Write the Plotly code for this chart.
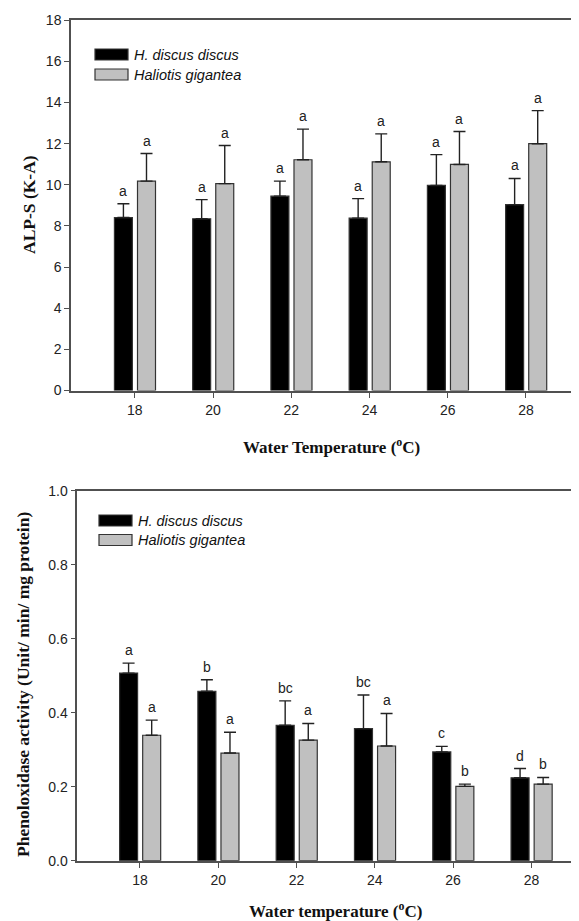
import plotly.graph_objects as go

# ---------------- data ----------------
temps = [18, 20, 22, 24, 26, 28]
series_names = ["H. discus discus", "Haliotis gigantea"]

alp_discus = [8.41, 8.35, 9.45, 8.38, 9.97, 9.04]
alp_discus_se = [0.67, 0.93, 0.73, 0.95, 1.50, 1.27]
alp_gigantea = [10.18, 10.06, 11.22, 11.12, 10.99, 12.00]
alp_gigantea_se = [1.34, 1.85, 1.49, 1.36, 1.60, 1.61]
alp_discus_letters = ["a", "a", "a", "a", "a", "a"]
alp_gigantea_letters = ["a", "a", "a", "a", "a", "a"]

po_discus = [0.507, 0.458, 0.366, 0.357, 0.294, 0.224]
po_discus_se = [0.027, 0.031, 0.066, 0.091, 0.015, 0.025]
po_gigantea = [0.339, 0.291, 0.326, 0.310, 0.201, 0.207]
po_gigantea_se = [0.041, 0.056, 0.045, 0.088, 0.006, 0.018]
po_discus_letters = ["a", "b", "bc", "bc", "c", "d"]
po_gigantea_letters = ["a", "a", "a", "a", "b", "b"]

alp_yticks = [0, 2, 4, 6, 8, 10, 12, 14, 16, 18]
po_yticks = [0.0, 0.2, 0.4, 0.6, 0.8, 1.0]
po_yticklabels = ["0.0", "0.2", "0.4", "0.6", "0.8", "1.0"]

# ---------------- layout helpers ----------------
W, H = 579, 921
def px(x):
    return x / W
def py(y):
    return 1 - y / H

BAR_W = 0.46
OFF_BLACK = -0.52
OFF_GRAY = 0.07
BLACK = "#000000"
GRAY = "#c0c0c0"
EDGE = "#333333"
AX = "#505050"
TICKFONT = dict(family="Liberation Sans, Arial", size=14, color="#222222")
SERIF = "Liberation Serif, Times New Roman"

fig = go.Figure()

def add_panel(xa, ya, m1, e1, m2, e2, l1, l2):
    for means, errs, off, color, name in [
        (m1, e1, OFF_BLACK, BLACK, series_names[0]),
        (m2, e2, OFF_GRAY, GRAY, series_names[1]),
    ]:
        fig.add_trace(go.Bar(
            x=temps, y=means, width=BAR_W, offset=off,
            marker=dict(color=color, line=dict(color=EDGE, width=1.2)),
            error_y=dict(type="data", array=errs, arrayminus=[0] * len(errs),
                         symmetric=False, color="#222222", thickness=1.4, width=6),
            name=name, showlegend=False, xaxis=xa, yaxis=ya,
        ))
    for means, errs, off, letters in [(m1, e1, OFF_BLACK, l1), (m2, e2, OFF_GRAY, l2)]:
        for t, m, e, lab in zip(temps, means, errs, letters):
            fig.add_annotation(
                x=t + off + BAR_W / 2, y=m + e, text=lab, showarrow=False,
                xref=xa, yref=ya, xanchor="center", yanchor="bottom", yshift=3,
                font=dict(family="Liberation Sans, Arial", size=14, color="#222222"),
            )

add_panel("x", "y", alp_discus, alp_discus_se, alp_gigantea, alp_gigantea_se,
          alp_discus_letters, alp_gigantea_letters)
add_panel("x2", "y2", po_discus, po_discus_se, po_gigantea, po_gigantea_se,
          po_discus_letters, po_gigantea_letters)

common_x = dict(tickvals=temps, ticks="outside", ticklen=6, tickwidth=1.3, tickcolor=AX,
                showline=True, linecolor=AX, linewidth=1.5, mirror=True,
                showgrid=False, zeroline=False, tickfont=TICKFONT)
common_y = dict(ticks="outside", ticklen=5, tickwidth=1.3, tickcolor=AX,
                showline=True, linecolor=AX, linewidth=1.5,
                showgrid=False, zeroline=False, tickfont=TICKFONT)

fig.update_layout(
    width=W, height=H,
    margin=dict(l=0, r=0, t=0, b=0, autoexpand=False),
    paper_bgcolor="white", plot_bgcolor="white",
    xaxis=dict(domain=[px(63), 1], range=[16.37, 29.56], anchor="y", **common_x),
    yaxis=dict(domain=[py(382.5), py(12.3)], range=[0, 18], tickvals=alp_yticks,
               anchor="x", **common_y),
    xaxis2=dict(domain=[px(69.3), 1], range=[16.40, 29.42], anchor="y2", **common_x),
    yaxis2=dict(domain=[py(852.7), py(482.7)], range=[0, 1.0], tickvals=po_yticks,
                ticktext=po_yticklabels, anchor="x2", **common_y),
)

# axis titles
def title(x, y, text, size, angle=0):
    fig.add_annotation(x=px(x), y=py(y), xref="paper", yref="paper", showarrow=False,
                       xanchor="center", yanchor="middle", textangle=angle,
                       text=text, font=dict(family=SERIF, size=size, color="#111111"))

title(323, 438, "<b>Water Temperature (<sup>o</sup>C)</b>", 17)
title(21, 197, "<b>ALP-S (K-A)</b>", 17.5, -90)
title(327, 902, "<b>Water temperature (<sup>o</sup>C)</b>", 17)
title(15, 677, "<b>Phenoloxidase activity (Unit/ min/ mg protein)</b>", 17.5, -90)

# legends (custom swatches)
LEGFONT = dict(family="Liberation Sans, Arial", size=14.5, color="#111111")
for (x0, x1, ytop, dy) in [(87, 120, 41, 20), (91, 124, 507, 19.5)]:
    for i, (name, color) in enumerate(zip(series_names, [BLACK, GRAY])):
        y0 = ytop + i * dy
        fig.add_shape(type="rect", xref="paper", yref="paper",
                      x0=px(x0), x1=px(x1), y0=py(y0 + 11), y1=py(y0),
                      fillcolor=color, line=dict(color=EDGE, width=1.2))
        fig.add_annotation(x=px(x1 + 4), y=py(y0 + 5.5), xref="paper", yref="paper",
                           showarrow=False, xanchor="left", yanchor="middle",
                           text="<i>" + name + "</i>", font=LEGFONT)

fig.write_html("out.html")
